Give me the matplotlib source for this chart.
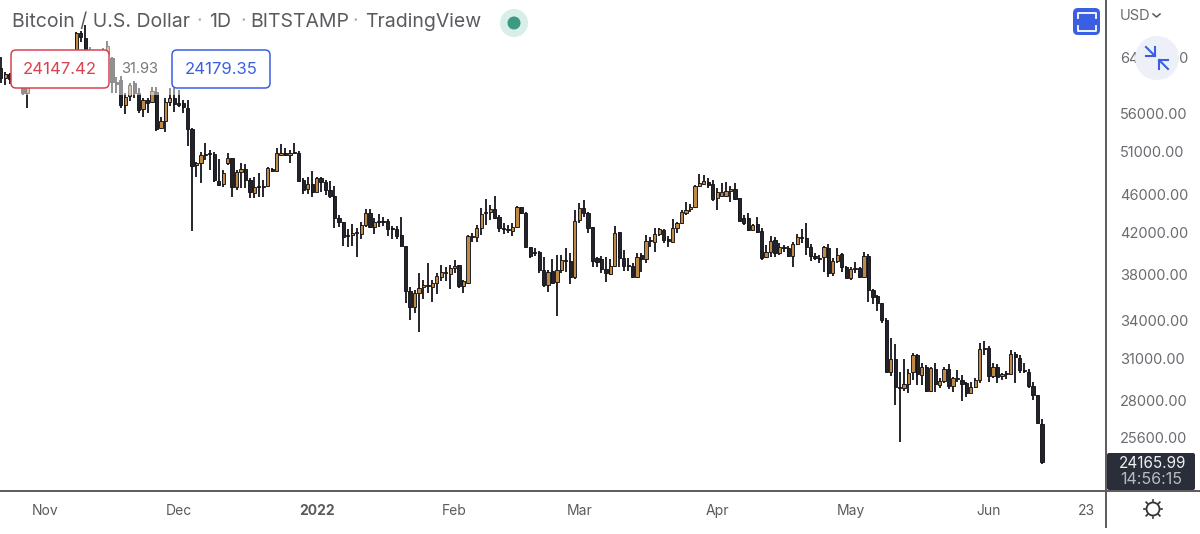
#!/usr/bin/python3

# BTC/USD daily candles, Bitstamp, Oct 2021 - Jun 2022

import pandas as pd
import matplotlib
matplotlib.use("Agg")
import matplotlib.pyplot as plt
import matplotlib.dates as mdates
from matplotlib.patches import Circle, FancyBboxPatch, Rectangle
from matplotlib.ticker import NullLocator

opens = [
    62420, 60880, 61500, 60850, 63080, 60330, 58770, 60600, 62270, 61880,
    61330, 60950, 63230, 62930, 61440, 60970, 61500, 63280, 67900, 67100,
    64900, 64800, 64150, 64400, 64500, 63940, 60350, 60640, 57090, 58340,
    60200, 58760, 56550, 57780, 57500, 58900, 54010, 54930, 57500, 58060,
    57360, 57360, 56680, 53880, 49400, 49640, 50610, 50850, 50730, 47540,
    47200, 49640, 50240, 46850, 48580, 48930, 47650, 46170, 46970, 46850,
    46970, 48930, 48700, 50610, 50850, 50610, 50850, 50850, 47650, 46630,
    47200, 46290, 47880, 47420, 46510, 45850, 43470, 43060, 41730, 41730,
    41940, 41840, 42750, 44000, 42550, 43060, 43160, 43160, 42440, 42340,
    41730, 40640, 36470, 35090, 36290, 36820, 37000, 36820, 37180, 37720,
    38090, 37990, 38550, 38820, 36910, 37180, 41530, 41530, 42440, 44000,
    44110, 44430, 43580, 42440, 42240, 42140, 42550, 44640, 44000, 40540,
    40050, 40050, 38360, 37000, 38270, 37270, 38360, 39290, 39200, 37720,
    43270, 44540, 44000, 42550, 39480, 39390, 38450, 37990, 38730, 42040,
    39480, 38730, 38730, 37720, 39770, 39390, 41130, 41030, 41840, 42240,
    41330, 41030, 42440, 42960, 44000, 44430, 44640, 46970, 47200, 47420,
    47200, 45620, 45850, 45850, 46400, 46630, 45620, 43480, 43480, 42240,
    42850, 42140, 39580, 40060, 41230, 39960, 40540, 40450, 39670, 40840,
    41530, 41430, 40540, 39670, 39480, 39580, 40450, 38080, 39200, 39870,
    38630, 37630, 38450, 38550, 37720, 39670, 36560, 36030, 35430, 34010,
    30000, 30950, 28940, 28870, 29150, 30000, 31260, 29790, 30370, 28660,
    30220, 29080, 29360, 30220, 29010, 29500, 29430, 29220, 28520, 28940,
    29430, 31720, 31790, 29720, 30370, 29720, 29860, 29860, 31330, 31030,
    30150, 30010, 29010, 28390, 26470,
]
highs = [
    64090, 61820, 61700, 63700, 63300, 61400, 62500, 62900, 62300, 62400,
    62400, 64000, 63500, 63100, 62600, 61500, 63300, 68100, 68300, 69230,
    65600, 65000, 65000, 65500, 66600, 64100, 61080, 61220, 58760, 60200,
    60500, 59480, 58060, 58060, 59620, 59620, 55460, 58060, 59480, 59480,
    59190, 57780, 57780, 54010, 49760, 50980, 52090, 51220, 50980, 50120,
    48810, 50850, 50240, 48810, 49640, 49520, 47880, 48000, 48460, 47650,
    49170, 49050, 51470, 51970, 51470, 51220, 52090, 51100, 47880, 48000,
    48700, 48000, 48000, 47650, 47540, 46970, 43790, 43060, 42340, 42850,
    42450, 43060, 44430, 44430, 43480, 43900, 43580, 43370, 42650, 42650,
    43580, 40640, 36820, 36560, 38080, 37450, 39010, 37450, 38080, 38820,
    38640, 38820, 39290, 38820, 37450, 41730, 41940, 42750, 44540, 45510,
    44860, 45850, 43790, 42960, 42750, 42960, 44750, 44640, 44110, 40540,
    40450, 40150, 39580, 38360, 39390, 39770, 39770, 40450, 39960, 44320,
    45080, 45400, 44110, 42550, 39580, 39670, 39580, 39390, 42650, 42040,
    40250, 39480, 39010, 39960, 39960, 41730, 41530, 42440, 42440, 42340,
    41630, 43370, 43060, 44320, 45180, 44970, 47080, 48350, 48230, 47880,
    47650, 46740, 47310, 47420, 46970, 47310, 45620, 43790, 44000, 42850,
    43580, 42440, 40740, 41630, 41530, 40930, 40740, 40640, 41030, 41840,
    42340, 42960, 40840, 39960, 39770, 40640, 40840, 39480, 40450, 39960,
    38730, 38630, 39100, 38630, 40060, 39870, 36650, 36120, 35430, 34170,
    32570, 32100, 30000, 30950, 30220, 31410, 31330, 30660, 30510, 30370,
    30660, 29570, 30370, 30590, 29640, 30150, 29790, 29290, 29290, 29570,
    32170, 32330, 31950, 30660, 30590, 29930, 30080, 31640, 31490, 31260,
    30660, 30220, 29290, 28390, 26800,
]
lows = [
    60200, 59910, 60000, 60700, 59800, 58480, 56690, 60200, 60700, 59500,
    59500, 60650, 60100, 60700, 60750, 60100, 61300, 63000, 66500, 63000,
    64100, 62300, 63300, 63600, 63600, 58760, 58760, 56680, 55870, 57640,
    58000, 56000, 55460, 56000, 57360, 53620, 53880, 53490, 56950, 56130,
    56820, 56000, 51710, 42140, 48000, 47310, 50000, 48810, 47420, 46970,
    46850, 49400, 45740, 46510, 46740, 46740, 45620, 45620, 45740, 45740,
    46850, 48580, 48580, 50490, 50490, 49640, 50730, 47420, 46060, 46060,
    45740, 46290, 46290, 45960, 45620, 42450, 42550, 40640, 40540, 40640,
    39580, 41330, 42550, 42450, 41840, 42550, 42650, 41630, 41330, 41330,
    40540, 35430, 34010, 34590, 33040, 35770, 36290, 35510, 36210, 37360,
    37360, 36640, 38080, 36730, 36290, 37090, 41030, 41030, 41730, 42750,
    43270, 43370, 42040, 41840, 41940, 41630, 42450, 43900, 40450, 39480,
    39670, 38080, 36820, 36380, 37180, 34340, 38080, 38180, 37090, 37540,
    42960, 43580, 41940, 38630, 38630, 38080, 37270, 37900, 38630, 38630,
    38270, 38270, 37720, 37630, 38180, 39010, 40540, 40050, 41630, 40930,
    40540, 40930, 41940, 42850, 43790, 44110, 44540, 46850, 47080, 46740,
    45290, 44320, 45740, 45740, 45180, 45400, 43170, 42750, 42140, 42140,
    41940, 39290, 39480, 39580, 39580, 39770, 40060, 39580, 38630, 40740,
    40930, 39770, 39200, 39290, 39010, 38180, 37720, 37810, 39010, 38180,
    37630, 37450, 38080, 37630, 37630, 35510, 35340, 34760, 33770, 30000,
    29720, 27710, 25350, 28660, 28520, 29430, 29080, 29080, 28590, 28590,
    28590, 28870, 29220, 28800, 28590, 29290, 27980, 28250, 28520, 28870,
    29220, 31260, 29290, 29570, 29220, 29430, 29500, 29790, 29220, 29930,
    29930, 28870, 28050, 26470, 24040,
]
closes = [
    60880, 61520, 60850, 63080, 60330, 58770, 60600, 62270, 61880, 61330,
    60950, 63230, 62930, 61440, 60970, 61500, 63280, 67900, 67250, 64900,
    64800, 64150, 64400, 65000, 65800, 60350, 60100, 57090, 58190, 59910,
    58760, 56410, 57780, 57360, 59050, 53880, 54930, 57500, 58060, 57230,
    57090, 56820, 53880, 49280, 49640, 50610, 50730, 50730, 47650, 47080,
    48460, 50240, 46850, 48580, 48930, 47650, 46290, 46850, 46850, 46970,
    49050, 48700, 50850, 50850, 50610, 50850, 50980, 47540, 46510, 47200,
    46290, 47880, 47420, 46510, 45850, 43470, 43060, 41530, 41630, 41940,
    42040, 42750, 44000, 42550, 43060, 43160, 43060, 42340, 42340, 41630,
    40640, 36470, 35090, 36290, 36730, 37000, 36910, 37180, 37810, 38180,
    38180, 38550, 38730, 36910, 37360, 41630, 41630, 42440, 43900, 44110,
    44430, 43480, 42440, 42340, 42340, 42550, 44640, 44000, 40540, 39670,
    39960, 38360, 37000, 38180, 37180, 38360, 39290, 39200, 37720, 43170,
    44540, 44000, 42440, 39200, 39100, 38450, 38080, 38730, 41940, 39480,
    38730, 38820, 37720, 39580, 39390, 41130, 41230, 41840, 42340, 41230,
    41130, 42440, 42960, 44110, 44320, 44640, 46970, 47310, 47540, 47080,
    45510, 46290, 46290, 46400, 46630, 45510, 43170, 42960, 42240, 42750,
    42040, 39480, 40060, 41130, 39960, 40540, 40450, 39670, 40840, 41530,
    41430, 40540, 39670, 39480, 39390, 40540, 38080, 39200, 39770, 38630,
    37630, 38450, 38550, 37720, 39670, 36560, 35950, 35430, 34010, 30000,
    30950, 28940, 28870, 29150, 29930, 31260, 29860, 30370, 28660, 30290,
    29150, 29360, 30220, 29010, 29570, 29570, 29150, 28520, 28940, 29430,
    31720, 31790, 29720, 30370, 29640, 29860, 29930, 31330, 31110, 30150,
    30080, 29010, 28390, 26540, 24165,
]

price_ticks = [64000, 56000, 51000, 46000, 42000, 38000, 34000, 31000, 28000, 25600]
date_ticks = ["2021-11-01", "2021-12-01", "2022-01-01", "2022-02-01", "2022-03-01",
              "2022-04-01", "2022-05-01", "2022-06-01", "2022-06-23"]
date_labels = ["Nov", "Dec", "2022", "Feb", "Mar", "Apr", "May", "Jun", "23"]

UP = "#bf8a45"
DOWN = "#23232a"
EDGE = "#14141a"
GREY = "#5a5a5f"
BLUE = "#3b5fe2"
RED = "#d8434f"
FONT = ["Inter", "DejaVu Sans"]

plt.rcParams["font.family"] = FONT

dates = mdates.date2num(pd.date_range("2021-10-22", periods=len(closes), freq="D"))
px_per_day = 4.45
left = dates[0] - 0.7 / px_per_day

fig = plt.figure(figsize=(12, 5.34), dpi=100)
ax = fig.add_axes([0, 43 / 534, 1106 / 1200, 491 / 534])

for d, o, h, l, c in zip(dates, opens, highs, lows, closes):
    ax.vlines(d, l, h, color=EDGE, linewidth=1.3, zorder=2)
    ax.bar(d, abs(c - o), bottom=min(o, c), width=0.72, color=UP if c >= o else DOWN,
           edgecolor=EDGE, linewidth=0.65, zorder=3)

ax.set_yscale("log")
ax.set_xlim(left, left + 1106 / px_per_day)
ax.set_ylim(22530, 73530)

ax.yaxis.tick_right()
ax.yaxis.set_minor_locator(NullLocator())
ax.set_yticks(price_ticks, [f"{p:.2f}" for p in price_ticks])
ax.set_xticks(mdates.date2num(pd.to_datetime(date_ticks)), date_labels)
ax.tick_params(axis="y", length=0, pad=10, labelsize=10.5, labelcolor="#6a6a70")
ax.tick_params(axis="x", length=0, pad=9.5, labelsize=10, labelcolor=GREY)
ax.get_xticklabels()[2].set_fontweight("bold")
for spine in ax.spines.values():
    spine.set_visible(False)

# overlay in pixel coordinates for the app chrome
ui = fig.add_axes([0, 0, 1, 1], zorder=5)
ui.set_xlim(0, 1200)
ui.set_ylim(534, 0)
ui.axis("off")
ui.patch.set_alpha(0)

ui.plot([1106, 1106], [0, 527], color=GREY, linewidth=1.4)
ui.plot([0, 1200], [491, 491], color=GREY, linewidth=1.4)

# faded band behind the measure labels
ui.add_patch(Rectangle((11, 50), 259, 45, facecolor="white", alpha=0.5, linewidth=0))
ui.add_patch(Rectangle((88, 40), 22, 10, facecolor="white", alpha=0.5, linewidth=0))

for x0, col, txt in [(11, RED, "24147.42"), (172, BLUE, "24179.35")]:
    ui.add_patch(FancyBboxPatch((x0 + 4, 54), 90, 30, boxstyle="round,pad=4,rounding_size=5",
                                facecolor="white", edgecolor=col, linewidth=1.1))
    ui.text(x0 + 49, 69, txt, color=col, fontsize=12, ha="center", va="center")
ui.text(140, 69, "31.93", color="#77777c", fontsize=10.5, ha="center", va="center")

# title
for x, txt, col in [(12, "Bitcoin / U.S. Dollar", GREY), (197, "·", "#b0b0b4"), (209, "1D", GREY),
                    (240, "·", "#b0b0b4"), (250, "BITSTAMP", GREY), (353, "·", "#b0b0b4"),
                    (365, "TradingView", GREY)]:
    ui.text(x, 22, txt, color=col, fontsize=14, ha="left", va="center")

# live dot
ui.add_patch(Circle((514, 23), 14, facecolor="#d8eee8", linewidth=0))
ui.add_patch(Circle((514, 23), 6.5, facecolor="#3c9a82", linewidth=0))

# fullscreen button
ui.add_patch(FancyBboxPatch((1076, 11), 21, 21, boxstyle="round,pad=3,rounding_size=5",
                            facecolor=BLUE, linewidth=0))
ui.plot([1078, 1078, 1096, 1096], [18, 13, 13, 18], color="white", linewidth=1.3)
ui.plot([1078, 1078, 1096, 1096], [26, 31, 31, 26], color="white", linewidth=1.3)

# currency menu
ui.text(1120, 16, "USD", color="#6a6a70", fontsize=10.5, ha="left", va="center")
ui.plot([1153, 1156.5, 1160], [14, 17, 14], color="#55555a", linewidth=1.1)

# collapse button over the top price label
ui.add_patch(Circle((1157, 58), 22, facecolor="#eef0f8", linewidth=0))
for xs, ys in [((1146, 1155), (47, 56)), ((1168, 1159), (69, 60))]:
    ui.plot(xs, ys, color=BLUE, linewidth=1.5)
for xs, ys in [((1146, 1155, 1155), (56, 56, 47)), ((1159, 1159, 1168), (69, 60, 60))]:
    ui.plot(xs, ys, color=BLUE, linewidth=1.5)

# last price tag
ui.add_patch(FancyBboxPatch((1109, 455), 84, 33, boxstyle="round,pad=2,rounding_size=2",
                            facecolor="#2a2e39", linewidth=0))
ui.text(1153, 463, "24165.99", color="#f0f0f2", fontsize=11, ha="center", va="center")
ui.text(1151, 480, "14:56:15", color="#b8bac2", fontsize=11.5, ha="center", va="center")

# settings icon
ui.add_patch(Circle((1153, 509), 6.5, facecolor="white", edgecolor="#333338", linewidth=1.3))
for dx, dy in [(0, -9), (0, 9), (-9, 0), (9, 0), (-6.5, -6.5), (6.5, -6.5), (-6.5, 6.5), (6.5, 6.5)]:
    ui.plot([1153 + dx * 0.85, 1153 + dx * 1.05], [509 + dy * 0.85, 509 + dy * 1.05],
            color="#333338", linewidth=1.2)

fig.savefig("out.png", dpi=100, facecolor="white")
